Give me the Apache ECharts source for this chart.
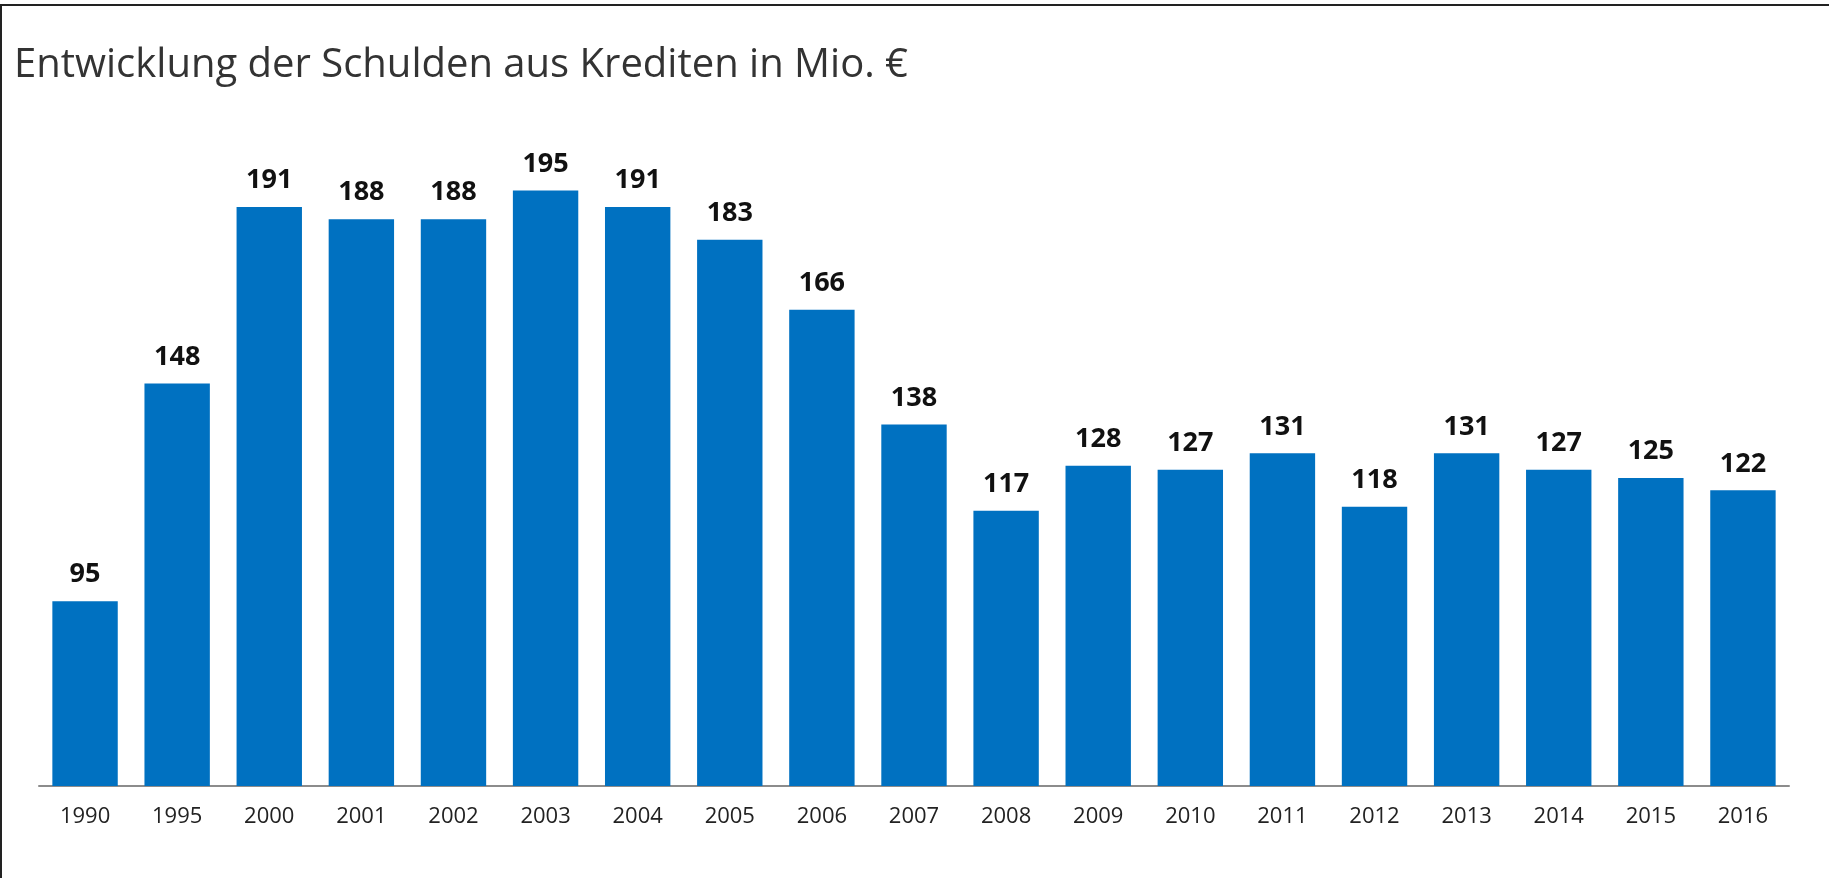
<!DOCTYPE html>
<html>
<head>
<meta charset="utf-8">
<script src="https://cdn.jsdelivr.net/npm/echarts@6/dist/echarts.min.js"></script>
<style>
  html, body { margin: 0; padding: 0; background: #fff; }
  .frame {
    position: absolute;
    left: 0;
    top: 4px;
    width: 1829px;
    height: 874px;
    border-top: 2px solid #222;
    border-left: 2px solid #222;
    box-sizing: border-box;
  }
  #chart { position: absolute; left: 0; top: 0; width: 1829px; height: 878px; }
</style>
</head>
<body>
<div class="frame"></div>
<div id="chart"></div>
<script>
// Jahre und Schulden in Mio. €
var years = ['1990', '1995', '2000', '2001', '2002', '2003', '2004', '2005', '2006', '2007',
  '2008', '2009', '2010', '2011', '2012', '2013', '2014', '2015', '2016']
var debts = [95, 148, 191, 188, 188, 195, 191, 183, 166, 138,
  117, 128, 127, 131, 118, 131, 127, 125, 122]

var myChart = echarts.init(document.getElementById('chart'))

var option = {
  backgroundColor: 'transparent',
  animation: false,
  title: {
    text: 'Entwicklung der Schulden aus Krediten in Mio. €',
    left: 9,
    top: 41,
    textStyle: {
      fontFamily: 'Open Sans',
      fontWeight: 'normal',
      fontSize: 40,
      color: '#333'
    }
  },
  grid: {
    left: 39,
    right: 40,
    top: 170,
    bottom: 92,
    containLabel: false
  },
  xAxis: {
    type: 'category',
    data: years,
    axisLine: {
      show: true,
      lineStyle: { color: '#8c8c8c', width: 2 }
    },
    axisTick: { show: false },
    axisLabel: {
      margin: 20,
      fontFamily: 'Open Sans',
      fontSize: 22,
      color: '#222'
    }
  },
  yAxis: {
    type: 'value',
    min: 50,
    max: 200,
    show: false,
    splitLine: { show: false }
  },
  series: [
    {
      type: 'bar',
      data: debts,
      barCategoryGap: '29%',
      itemStyle: { color: '#0071c1' },
      label: {
        show: true,
        position: 'top',
        distance: 13,
        fontFamily: 'Open Sans',
        fontWeight: 'bold',
        fontSize: 27,
        color: '#111'
      }
    }
  ]
}

myChart.setOption(option)
</script>
</body>
</html>
